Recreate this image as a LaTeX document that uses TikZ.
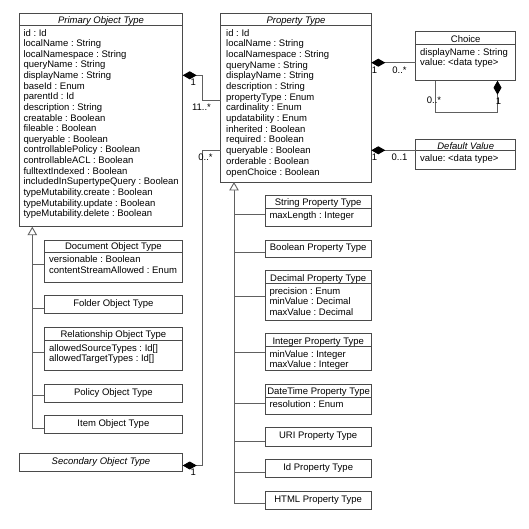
\documentclass[tikz,border=0pt]{standalone}
\usepackage{fontspec}
\setmainfont{Liberation Sans}
\usetikzlibrary{arrows.meta,fit}
\frenchspacing
\definecolor{boxc}{HTML}{4A4A4A}
\definecolor{linec}{HTML}{606060}
\tikzset{
  umlbox/.style={draw=boxc, line width=0.9pt, inner sep=0pt, outer sep=0pt},
  sepl/.style={draw=boxc, line width=0.9pt},
  ttl/.style={inner sep=0pt, text height=6.8pt, text depth=0pt, font=\fontsize{9.5}{10.6}\selectfont},
  ittl/.style={ttl, font=\fontsize{9.5}{10.6}\selectfont\itshape},
  attr/.style={ttl, anchor=west},
  conn/.style={draw=linec, line width=0.9pt},
  comp/.style={conn, {Diamond[length=14pt,width=8pt,color=black,fill=black]}-},
  gen/.style={conn, {Triangle[open,length=8.5pt,width=9.5pt,fill=white]}-},
}
\begin{document}
\begin{tikzpicture}[x=1pt,y=-1pt]
\useasboundingbox (0,0) rectangle (529,529);
\fill[white] (0,0) rectangle (529,529);

% ---------- Primary Object Type
\node[umlbox, fit={(19.3,13.3) (182.7,226.7)}] (prim) {};
\draw[sepl] (19.3,25) -- (182.7,25);
\node[ittl] (primt) at (101,20.5) {Primary Object Type};
\foreach \t [count=\i from 0] in {id : Id, localName : String, localNamespace : String, queryName : String, displayName : String, baseId : Enum, parentId : Id, description : String, creatable : Boolean, fileable : Boolean, queryable : Boolean, controllablePolicy : Boolean, controllableACL : Boolean, fulltextIndexed : Boolean, includedInSupertypeQuery : Boolean, typeMutability.create : Boolean, typeMutability.update : Boolean, typeMutability.delete : Boolean}
  \node[attr] (pa\i) at (23.3,32.7+\i*10.62) {\t};

% ---------- Property Type
\node[umlbox, fit={(220.7,13.3) (371.3,182)}] (prop) {};
\draw[sepl] (220.7,25) -- (371.3,25);
\node[ittl] (propt) at (296,20.5) {Property Type};
\foreach \t [count=\i from 0] in {id : Id, localName : String, localNamespace : String, queryName : String, displayName : String, description : String, propertyType : Enum, cardinality : Enum, updatability : Enum, inherited : Boolean, required : Boolean, queryable : Boolean, orderable : Boolean, openChoice : Boolean}
  \node[attr] (qa\i) at (226,32.7+\i*10.69) {\t};

% ---------- Choice
\node[umlbox, fit={(415.7,31.7) (515.7,80.7)}] (choice) {};
\draw[sepl] (415.7,44) -- (515.7,44);
\node[ttl] (choicet) at (465.7,38.8) {Choice};
\node[attr] (ca0) at (420,51.7) {displayName : String};
\node[attr] (ca1) at (420,62.5) {value: <data type>};

% ---------- Default Value
\node[umlbox, fit={(415.7,139.3) (515.7,169.3)}] (dv) {};
\draw[sepl] (415.7,150.5) -- (515.7,150.5);
\node[ittl] (dvt) at (465.7,145.8) {Default Value};
\node[attr] (dva0) at (420,158.5) {value: <data type>};

% ---------- Object subtypes
\node[umlbox, fit={(44,240) (182.7,282.3)}] (doc) {};
\draw[sepl] (44,252.3) -- (182.7,252.3);
\node[ttl] (doct) at (113.4,246.2) {Document Object Type};
\node[attr] (da0) at (49,259.2) {versionable : Boolean};
\node[attr] (da1) at (49,269.8) {contentStreamAllowed : Enum};

\node[umlbox, fit={(44,295.7) (182.7,313.3)}] (folder) {};
\node[ttl] (foldert) at (113.4,303.2) {Folder Object Type};

\node[umlbox, fit={(44,327.3) (182.7,370.7)}] (rel) {};
\draw[sepl] (44,340) -- (182.7,340);
\node[ttl] (relt) at (113.4,334.2) {Relationship Object Type};
\node[attr] (ra0) at (49,347.6) {allowedSourceTypes : Id[]};
\node[attr] (ra1) at (49,358.2) {allowedTargetTypes : Id[]};

\node[umlbox, fit={(44,384) (182.7,402.3)}] (policy) {};
\node[ttl] (policyt) at (113.4,391.6) {Policy Object Type};

\node[umlbox, fit={(44,415.3) (182.7,433.3)}] (item) {};
\node[ttl] (itemt) at (113.4,422.7) {Item Object Type};

\node[umlbox, fit={(19.3,453.3) (182.7,471.3)}] (sec) {};
\node[ittl] (sect) at (101,460.6) {Secondary Object Type};

% ---------- Property subtypes
\node[umlbox, fit={(265,195.3) (371.3,226)}] (str) {};
\draw[sepl] (265,208) -- (371.3,208);
\node[ttl] (strt) at (318.2,202.2) {String Property Type};
\node[attr] (sa0) at (269.3,215) {maxLength : Integer};

\node[umlbox, fit={(265,240) (371.3,257.3)}] (bool) {};
\node[ttl] (boolt) at (318.2,246.7) {Boolean Property Type};

\node[umlbox, fit={(265,270.7) (371.3,320.3)}] (dec) {};
\draw[sepl] (265,283.3) -- (371.3,283.3);
\node[ttl] (dect) at (318.2,277.6) {Decimal Property Type};
\node[attr] (dea0) at (269.3,290.7) {precision : Enum};
\node[attr] (dea1) at (269.3,301.3) {minValue : Decimal};
\node[attr] (dea2) at (269.3,311.9) {maxValue : Decimal};

\node[umlbox, fit={(265,333.7) (371.3,370.7)}] (int) {};
\draw[sepl] (265,346.7) -- (371.3,346.7);
\node[ttl] (intt) at (318.2,340.6) {Integer Property Type};
\node[attr] (ia0) at (269.3,353.7) {minValue : Integer};
\node[attr] (ia1) at (269.3,364.3) {maxValue : Integer};

\node[umlbox, fit={(265,384.3) (371.3,414.7)}] (dt) {};
\draw[sepl] (265,397.3) -- (371.3,397.3);
\node[ttl] (dtt) at (318.6,391.3) {DateTime Property Type};
\node[attr] (dta0) at (269.3,404) {resolution : Enum};

\node[umlbox, fit={(265,427.7) (371.3,446)}] (uri) {};
\node[ttl] (urit) at (318.2,435.3) {URI Property Type};

\node[umlbox, fit={(265,459.3) (371.3,477.7)}] (idp) {};
\node[ttl] (idpt) at (318.2,467) {Id Property Type};

\node[umlbox, fit={(265,491) (371.3,509.3)}] (html) {};
\node[ttl] (htmlt) at (318.2,498.7) {HTML Property Type};

% ---------- composition connectors
\coordinate (j1) at (202.3,75.3);
\coordinate (j2) at (202.3,100.7);
\draw[comp] (prim.east |- j1) -- (j1) -- (j2) -- (prop.west |- j2);
\node[ttl] (m1) at (193.2,82) {1};
\node[ttl] (m2) at (201.5,106.7) {11..*};

\coordinate (j3) at (202.3,465.5);
\coordinate (j4) at (202.3,150.3);
\draw[comp] (sec.east |- j3) -- (j3) -- (j4) -- (prop.west |- j4);
\node[ttl] (m3) at (193.3,471.8) {1};
\node[ttl] (m4) at (205.5,157.3) {0..*};

\coordinate (j5) at (393,62.7);
\draw[comp] (prop.east |- j5) -- (choice.west |- j5);
\node[ttl] (m5) at (374.5,70) {1};
\node[ttl] (m6) at (399.5,70) {0..*};

\coordinate (j6) at (393,150.3);
\draw[comp] (prop.east |- j6) -- (dv.west |- j6);
\node[ttl] (m7) at (374.5,157.3) {1};
\node[ttl] (m8) at (399.5,157.3) {0..1};

\coordinate (j7) at (497.5,112.7);
\coordinate (j8) at (435,112.7);
\draw[comp] (choice.south -| j7) -- (j7) -- (j8) -- (choice.south -| j8);
\node[ttl] (m9) at (434,100) {0..*};
\node[ttl] (m10) at (498.5,101) {1};

% ---------- generalization: object types
\coordinate (g1) at (32.3,428.3);
\draw[gen] (prim.south -| g1) -- (g1);
\foreach \n/\y in {doc/264, folder/308.3, rel/352.3, policy/395.7, item/428.3}
  \draw[conn] (32.3,\y) -- (\n.west |- {32.3,\y});

% ---------- generalization: property types
\coordinate (g2) at (234,503.3);
\draw[gen] (prop.south -| g2) -- (g2);
\foreach \n/\y in {str/214, bool/252, dec/296, int/352.3, dt/403, uri/441, idp/472.3, html/503.3}
  \draw[conn] (234,\y) -- (\n.west |- {234,\y});
\end{tikzpicture}
\end{document}
